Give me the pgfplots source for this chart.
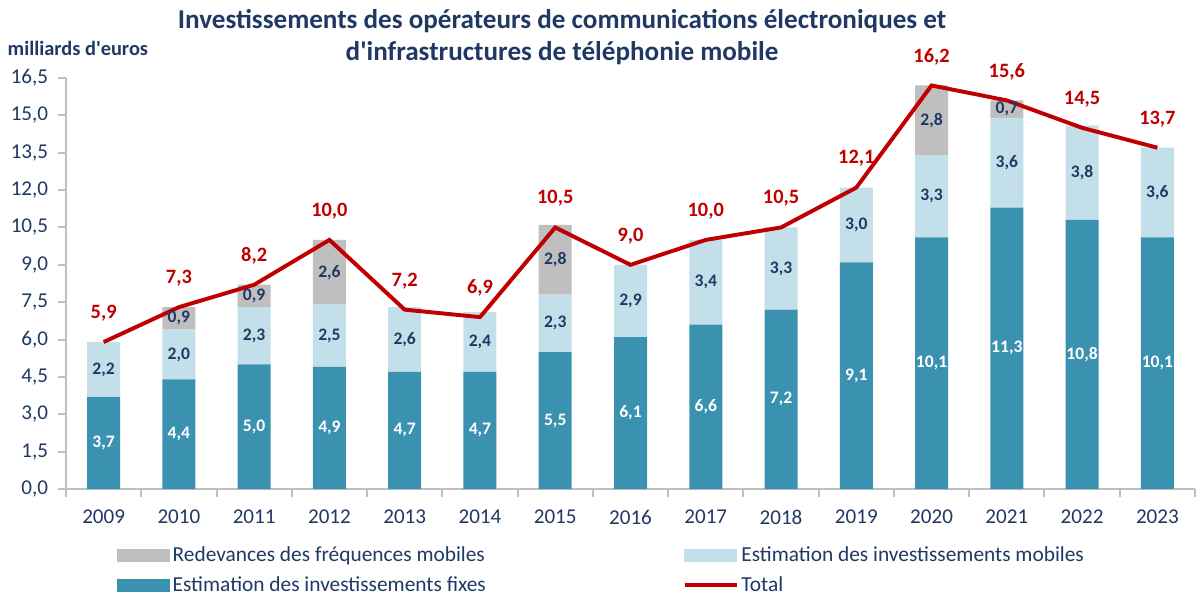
\documentclass[border=0pt]{standalone}
\usepackage{fontspec}
\setmainfont{Carlito}
\usepackage{pgfplots}
\usepackage{pgfplotstable}
\pgfplotsset{compat=1.18}
\definecolor{fixe}{HTML}{3A91B0}
\definecolor{mobile}{HTML}{C3E0EA}
\definecolor{freq}{HTML}{BFBFBF}
\definecolor{total}{HTML}{C00000}
\definecolor{navy}{HTML}{1F3864}
\definecolor{axisgrey}{HTML}{BFBFBF}

\pgfplotstableread{
idx year fixe mobile freq total
0 2009 3.7 2.2 0 5.9
1 2010 4.4 2.0 0.9 7.3
2 2011 5.0 2.3 0.9 8.2
3 2012 4.9 2.5 2.6 10.0
4 2013 4.7 2.6 0 7.2
5 2014 4.7 2.4 0 6.9
6 2015 5.5 2.3 2.8 10.5
7 2016 6.1 2.9 0 9.0
8 2017 6.6 3.4 0 10.0
9 2018 7.2 3.3 0 10.5
10 2019 9.1 3.0 0 12.1
11 2020 10.1 3.3 2.8 16.2
12 2021 11.3 3.6 0.7 15.6
13 2022 10.8 3.8 0 14.5
14 2023 10.1 3.6 0 13.7
}\invest
% middle of each stacked segment, where its label goes
\pgfplotstablecreatecol[create col/expr={\thisrow{fixe}/2}]{fixemid}\invest
\pgfplotstablecreatecol[create col/expr={\thisrow{fixe}+\thisrow{mobile}/2}]{mobilemid}\invest
\pgfplotstablecreatecol[create col/expr={\thisrow{fixe}+\thisrow{mobile}+\thisrow{freq}/2}]{freqmid}\invest

% label text, nothing for zero
\newcount\segflag
\newcommand\seglabel[1]{%
  \pgfmathfloatparsenumber{#1}%
  \pgfmathfloatgetflags{\pgfmathresult}{\segflag}%
  \ifnum\segflag=0 \else\pgfmathprintnumber[fixed,fixed zerofill,precision=1,use comma,assume math mode=true]{#1}\fi}

\pgfplotsset{
  base/.style={
    scale only axis, width=28.225cm, height=10.275cm,
    xmin=-0.5, xmax=14.5, ymin=0, ymax=16.5, clip=false,
  },
  seg label/.style={
    draw=none, mark=none, point meta=explicit,
    nodes near coords={\seglabel{\pgfplotspointmeta}},
    every node near coord/.append style={anchor=center, text=#1,
      font=\bfseries\fontsize{12.5}{14}\selectfont},
  },
}

\begin{document}
\begin{tikzpicture}
\useasboundingbox (-1.65,-2.75) rectangle (28.325,12.225);
\begin{axis}[base,
  ybar stacked, bar width=0.825cm,
  axis x line*=bottom, axis y line*=left,
  axis line style={axisgrey, line width=1.4pt},
  tick align=outside,
  xtick={0,...,14}, xticklabels from table={\invest}{year},
  minor xtick={-0.5,0.5,...,14.5},
  every major x tick/.append style={draw=none},
  every minor x tick/.append style={draw=axisgrey, line width=1.4pt},
  minor tick length=0.2cm,
  ytick={0,1.5,3,4.5,6,7.5,9,10.5,12,13.5,15,16.5},
  ytick style={draw=axisgrey, line width=1.4pt},
  major tick length=0.2cm,
  xticklabel style={font=\fontsize{15}{18}\selectfont, text=navy, yshift=-0.2cm},
  yticklabel style={font=\fontsize{15}{18}\selectfont, text=navy, xshift=-3.5pt,
    /pgf/number format/.cd, fixed, fixed zerofill, precision=1, use comma, assume math mode=true},
  title={Investissements des opérateurs de communications électroniques et\\d\textquotesingle infrastructures de téléphonie mobile},
  title style={at={(rel axis cs:0.4394,1.079)}, anchor=center, align=center,
    font=\bfseries\fontsize{19.3}{22.8}\selectfont, text=navy},
  ylabel={milliards d\textquotesingle euros},
  ylabel style={rotate=-90, at={(rel axis cs:-0.056,1.073)}, anchor=west,
    font=\bfseries\fontsize{14.5}{16}\selectfont, text=navy},
  legend columns=2,
  legend cell align=left,
  legend style={at={(rel axis cs:0.0452,-0.132)}, anchor=north west, draw=none, fill=none,
    font=\fontsize{15.2}{18}\selectfont, text=navy, inner sep=0pt, row sep=0.2cm,
    /tikz/every even column/.append style={column sep=4.85cm}},
]
\addlegendimage{legend image code/.code={\fill[freq] (0cm,-0.15cm) rectangle (1.3cm,0.15cm);}}
\addlegendentry{Redevances des fréquences mobiles}
\addlegendimage{legend image code/.code={\fill[mobile] (0cm,-0.15cm) rectangle (1.3cm,0.15cm);}}
\addlegendentry{Estimation des investissements mobiles}
\addlegendimage{legend image code/.code={\fill[fixe] (0cm,-0.15cm) rectangle (1.3cm,0.15cm);}}
\addlegendentry{Estimation des investissements fixes}
\addlegendimage{legend image code/.code={\draw[total, line width=2.8pt] (0cm,0cm) -- (1.3cm,0cm);}}
\addlegendentry{Total}

\addplot[fill=fixe, draw=none] table[x=idx, y=fixe] {\invest};
\addplot[fill=mobile, draw=none] table[x=idx, y=mobile] {\invest};
\addplot[fill=freq, draw=none] table[x=idx, y=freq] {\invest};
\end{axis}

\begin{axis}[base, hide axis]
\addplot[seg label=white] table[x=idx, y=fixemid, meta=fixe] {\invest};
\addplot[seg label=navy] table[x=idx, y=mobilemid, meta=mobile] {\invest};
\addplot[seg label=navy] table[x=idx, y=freqmid, meta=freq] {\invest};

\addplot[total, line width=2.8pt, mark=none,
  nodes near coords={\pgfmathprintnumber[fixed,fixed zerofill,precision=1,use comma,assume math mode=true]{\pgfplotspointmeta}},
  point meta=y,
  every node near coord/.append style={anchor=center, yshift=20.6pt, text=total,
    font=\bfseries\fontsize{14.5}{17}\selectfont}]
  table[x=idx, y=total] {\invest};
\end{axis}
\end{tikzpicture}
\end{document}
